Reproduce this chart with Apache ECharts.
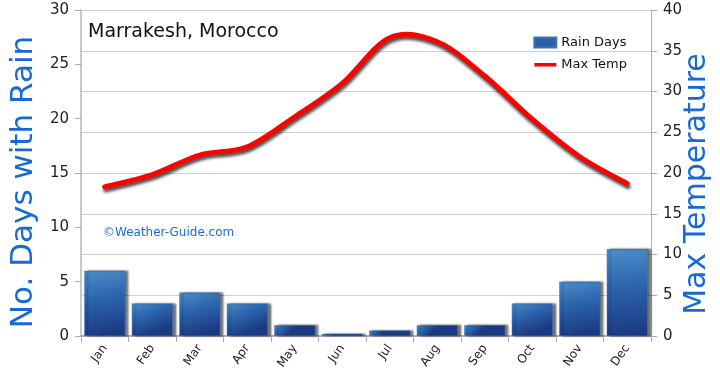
<!DOCTYPE html>
<html>
<head>
<meta charset="utf-8">
<script src="https://cdn.jsdelivr.net/npm/echarts@6/dist/echarts.min.js"></script>
<style>html,body{margin:0;padding:0;background:#fff}#c{width:720px;height:381px}</style>
</head>
<body>
<div id="c"></div>
<script>
var months = ['Jan','Feb','Mar','Apr','May','Jun','Jul','Aug','Sep','Oct','Nov','Dec'];
var rainDays = [6, 3, 4, 3, 1, 0.2, 0.5, 1, 1, 3, 5, 8];
var maxTemp = [18.3, 19.8, 22.2, 23.2, 26.9, 31, 36.6, 36.1, 31.9, 26.6, 22, 18.7];
var titleText = 'Marrakesh, Morocco';
var leftTitle = 'No. Days with Rain';
var rightTitle = 'Max Temperature';
var credit = '©Weather-Guide.com';

var FONT = 'DejaVu Sans';

function renderTempLine(params, api) {
  if (params.dataIndex !== 0) return null;
  var pts = maxTemp.map(function (v, i) { return api.coord([i, v]); });
  var d = 'M' + pts[0][0] + ',' + pts[0][1];
  for (var i = 0; i < pts.length - 1; i++) {
    var p0 = pts[i - 1] || pts[i], p1 = pts[i], p2 = pts[i + 1], p3 = pts[i + 2] || pts[i + 1];
    var c1x = p1[0] + (p2[0] - p0[0]) / 6, c1y = p1[1] + (p2[1] - p0[1]) / 6;
    var c2x = p2[0] - (p3[0] - p1[0]) / 6, c2y = p2[1] - (p3[1] - p1[1]) / 6;
    d += ' C' + c1x + ',' + c1y + ' ' + c2x + ',' + c2y + ' ' + p2[0] + ',' + p2[1];
  }
  return {
    type: 'path',
    shape: {pathData: d},
    style: {fill: null, stroke: '#ff0000', lineWidth: 5, lineCap: 'round', lineJoin: 'round',
            shadowColor: 'rgba(0,0,0,0.7)', shadowBlur: 3, shadowOffsetX: 1, shadowOffsetY: 3}
  };
}

var chart = echarts.init(document.getElementById('c'), null, {renderer: 'canvas'});
chart.setOption({
  animation: false,
  backgroundColor: '#fff',
  textStyle: {fontFamily: FONT},
  grid: {left: 81, right: 69, top: 10, bottom: 45},
  legend: {
    orient: 'vertical', right: 88, top: 31, itemGap: 9,
    itemWidth: 22, itemHeight: 10,
    textStyle: {fontFamily: FONT, fontSize: 13, color: '#111'},
    data: [
      {name: 'Rain Days', icon: 'rect', itemStyle: {color: '#2d5fa6'}},
      {name: 'Max Temp', icon: 'path://M0,0L0.01,0L0.01,0.01Z M0,10L0.01,10L0.01,9.99Z M0,3.5h22v3.5h-22z', itemStyle: {color: '#ff0000'}}
    ]
  },
  graphic: [
    {type: 'text', left: 88, top: 23, style: {text: titleText, font: '19px "' + FONT + '"', fill: '#111'}},
    {type: 'text', left: 103, top: 227, style: {text: credit, font: '12px "' + FONT + '"', fill: '#1a6fd6'}},
    {type: 'text', x: 24, y: 182, rotation: Math.PI / 2,
     style: {text: leftTitle, font: '31px "' + FONT + '"', fill: '#1769d4', textAlign: 'center', textVerticalAlign: 'middle'}},
    {type: 'text', x: 697, y: 184, rotation: Math.PI / 2,
     style: {text: rightTitle, font: '30px "' + FONT + '"', fill: '#1769d4', textAlign: 'center', textVerticalAlign: 'middle'}}
  ],
  xAxis: {
    type: 'category', data: months, boundaryGap: true,
    axisLine: {lineStyle: {color: '#b0b0b0', width: 2}},
    axisTick: {show: true, length: 6, alignWithLabel: false, lineStyle: {color: '#aaa'}},
    axisLabel: {rotate: 55, fontSize: 12, color: '#222', margin: 10, fontFamily: FONT}
  },
  yAxis: [
    {
      type: 'value', min: 0, max: 30, interval: 5,
      axisLine: {show: true, lineStyle: {color: '#c8c8c8', width: 2}},
      axisTick: {show: true, length: 6, lineStyle: {color: '#aaa'}},
      axisLabel: {fontSize: 15, color: '#222', margin: 12, fontFamily: FONT},
      splitLine: {show: false}
    },
    {
      type: 'value', min: 0, max: 40, interval: 5, position: 'right',
      axisLine: {show: true, lineStyle: {color: '#b0b0b0', width: 1}},
      axisTick: {show: true, length: 6, lineStyle: {color: '#aaa'}},
      axisLabel: {fontSize: 15, color: '#222', margin: 12, fontFamily: FONT},
      splitLine: {show: true, lineStyle: {color: '#cfcfcf', width: 1}}
    }
  ],
  series: [
    {
      name: 'Rain Days', type: 'bar', yAxisIndex: 0, data: rainDays, barWidth: 41,
      itemStyle: {
        color: new echarts.graphic.LinearGradient(0, 0, 0.3, 1, [
          {offset: 0, color: '#4c8ecb'},
          {offset: 0.45, color: '#2c65ad'},
          {offset: 1, color: '#1b3a84'}
        ]),
        borderColor: '#3b74b8', borderWidth: 0.5,
        shadowColor: 'rgba(0,0,0,0.55)', shadowBlur: 2, shadowOffsetX: 3, shadowOffsetY: 0
      }
    },
    {
      name: 'Max Temp', type: 'custom', yAxisIndex: 1,
      data: maxTemp.map(function (v, i) { return [i, v]; }),
      encode: {x: 0, y: 1},
      itemStyle: {color: '#ff0000'},
      renderItem: renderTempLine
    }
  ]
});
</script>
</body>
</html>
